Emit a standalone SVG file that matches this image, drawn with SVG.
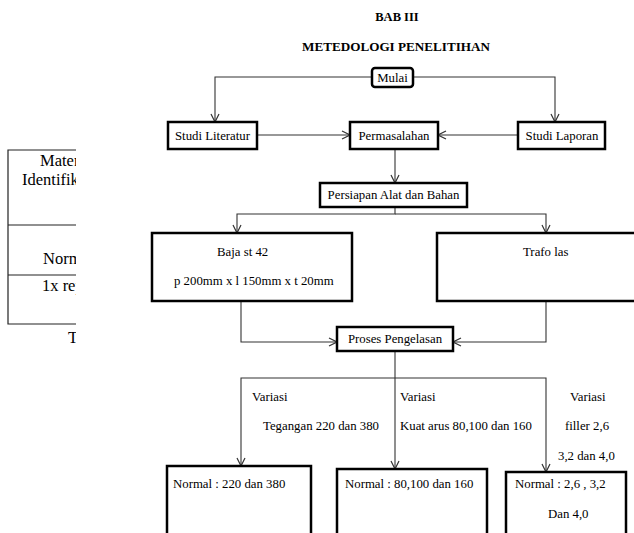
<svg xmlns="http://www.w3.org/2000/svg" width="634" height="533" viewBox="0 0 634 533">
<style>
text{font-family:"Liberation Serif","Times New Roman",serif;font-size:12.8px;fill:#000}
.t{font-weight:bold;font-size:12.5px}
.big{font-size:16.5px}
.box{fill:#fff;stroke:#000;stroke-width:2.5}
.ln{fill:none;stroke:#333;stroke-width:1.1}
.tb{fill:none;stroke:#222;stroke-width:1.2}
</style>
<defs>
<marker id="ar" viewBox="0 0 10 10" refX="9" refY="5" markerWidth="10" markerHeight="10" markerUnits="userSpaceOnUse" orient="auto">
<polyline points="1,1 9,5 1,9" fill="none" stroke="#333" stroke-width="1.2"/>
</marker>
<clipPath id="cl"><rect x="0" y="140" width="76" height="220"/></clipPath>
</defs>
<g id="left-table" clip-path="url(#cl)">
<path class="tb" d="M90,150H8V324H90M8,225H90M8,275H90"/>
<text class="big" x="40" y="166">Material</text>
<text class="big" x="22" y="185">Identifikasi</text>
<text class="big" x="43" y="264">Normal</text>
<text class="big" x="42" y="291">1x repetisi</text>
<text class="big" x="68" y="343">Tabel</text>
</g>
<g id="title">
<text class="t" x="397" y="21" text-anchor="middle">BAB III</text>
<text class="t" x="396" y="51" text-anchor="middle" textLength="188" lengthAdjust="spacingAndGlyphs">METEDOLOGI PENELITIHAN</text>
</g>
<g id="connectors">
<path class="ln" d="M372,77H215V122" marker-end="url(#ar)"/>
<path class="ln" d="M413,77H555V122" marker-end="url(#ar)"/>
<path class="ln" d="M257,135H350" marker-end="url(#ar)"/>
<path class="ln" d="M518,135H438" marker-end="url(#ar)"/>
<path class="ln" d="M395,149V183" marker-end="url(#ar)"/>
<path class="ln" d="M395,207V214H237V233" marker-end="url(#ar)"/>
<path class="ln" d="M395,214H546V233" marker-end="url(#ar)"/>
<path class="ln" d="M241,301V342H337" marker-end="url(#ar)"/>
<path class="ln" d="M546,301V342H453" marker-end="url(#ar)"/>
<path class="ln" d="M395,351V469" marker-end="url(#ar)"/>
<path class="ln" d="M395,378H241V466" marker-end="url(#ar)"/>
<path class="ln" d="M395,378H546V472" marker-end="url(#ar)"/>
</g>
<g id="mulai">
<rect class="box" x="372" y="68" width="41" height="19" rx="3"/>
<text x="392.5" y="82" text-anchor="middle">Mulai</text>
</g>
<g id="studi-literatur">
<rect class="box" x="168" y="122" width="89" height="27"/>
<text x="212.5" y="139.5" text-anchor="middle">Studi Literatur</text>
</g>
<g id="permasalahan">
<rect class="box" x="350" y="122" width="88" height="27"/>
<text x="394" y="139.5" text-anchor="middle">Permasalahan</text>
</g>
<g id="studi-laporan">
<rect class="box" x="518" y="122" width="87" height="27"/>
<text x="562" y="139.5" text-anchor="middle">Studi Laporan</text>
</g>
<g id="persiapan">
<rect class="box" x="320" y="183" width="147" height="24"/>
<text x="393.5" y="199" text-anchor="middle">Persiapan Alat dan Bahan</text>
</g>
<g id="baja">
<rect class="box" x="152" y="233" width="200" height="68"/>
<text x="217" y="256">Baja st 42</text>
<text x="174" y="285">p 200mm x l 150mm x t 20mm</text>
</g>
<g id="trafo">
<rect class="box" x="437" y="233" width="210" height="68"/>
<text x="523" y="256">Trafo las</text>
</g>
<g id="proses">
<rect class="box" x="337" y="327" width="116" height="24"/>
<text x="395" y="343" text-anchor="middle">Proses Pengelasan</text>
</g>
<g id="labels">
<text x="252" y="401">Variasi</text>
<text x="263" y="430">Tegangan 220 dan 380</text>
<text x="400" y="401">Variasi</text>
<text x="400" y="430">Kuat arus 80,100 dan 160</text>
<text x="570" y="401">Variasi</text>
<text x="565" y="430">filler 2,6</text>
<text x="558" y="460">3,2 dan 4,0</text>
</g>
<g id="normal-tegangan">
<rect class="box" x="167" y="466" width="144" height="80"/>
<text x="173" y="488">Normal : 220 dan 380</text>
</g>
<g id="normal-arus">
<rect class="box" x="337" y="469" width="150" height="80"/>
<text x="345" y="488">Normal : 80,100 dan 160</text>
</g>
<g id="normal-filler">
<rect class="box" x="506" y="472" width="120" height="80"/>
<text x="515" y="488">Normal : 2,6 , 3,2</text>
<text x="548" y="518">Dan 4,0</text>
</g>
</svg>
